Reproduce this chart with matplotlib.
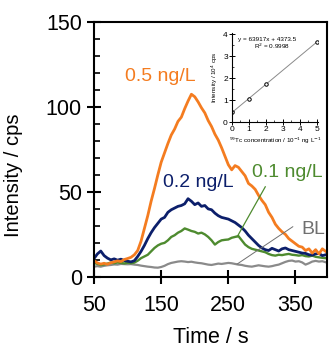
import numpy as np
from matplotlib import pyplot as plt
from matplotlib.ticker import MultipleLocator

plt.rcParams['font.family'] = ['Liberation Sans', 'DejaVu Sans']

time_s = np.arange(50, 400, 5)

int_05 = [9.5, 8.2, 7.5, 8.0, 7.4, 8.3, 8.8, 9.4, 9.0, 10.2, 10.8, 11.5, 13.0, 15.5,
          21.0, 28.5, 36.0, 44.5, 52.0, 60.0, 67.5, 73.0, 78.5, 83.5, 87.0, 91.5,
          94.0, 99.0, 103.5, 107.5, 106.0, 103.0, 99.5, 96.5, 92.0, 88.5, 84.0, 80.5,
          76.0, 71.0, 66.0, 63.0, 65.5, 64.5, 62.0, 59.5, 55.0, 53.5, 51.5, 48.0,
          45.0, 42.5, 38.0, 35.0, 31.0, 28.5, 26.5, 25.0, 22.5, 21.0, 19.5, 18.0,
          17.5, 15.5, 16.5, 14.0, 16.0, 13.5, 16.5, 15.0]
int_02 = [10.8, 13.5, 15.2, 12.5, 11.0, 10.0, 10.6, 9.8, 10.4, 9.6, 9.2, 8.8, 9.5, 12.0,
          15.0, 18.5, 22.5, 26.0, 29.0, 31.5, 34.0, 35.0, 38.0, 39.5, 40.5, 41.5,
          42.0, 43.0, 46.0, 44.5, 42.5, 43.5, 41.5, 42.0, 40.0, 39.5, 37.5, 36.0,
          35.0, 34.5, 34.0, 33.0, 32.0, 30.5, 29.0, 27.0, 24.5, 22.5, 20.5, 18.5,
          17.0, 16.0, 15.5, 16.8, 16.0, 15.2, 16.5, 17.0, 16.0, 15.5, 15.0, 14.5,
          14.0, 13.8, 13.0, 12.8, 13.5, 13.8, 12.5, 13.0]
int_01 = [8.2, 7.6, 7.0, 7.3, 7.8, 8.4, 8.0, 8.5, 8.2, 7.9, 8.3, 8.0, 8.4, 9.5,
          11.0, 12.0, 13.0, 15.0, 17.0, 18.5, 19.5, 20.0, 21.5, 23.5, 24.5, 26.0,
          27.0, 28.5, 27.8, 27.0, 26.5, 25.5, 26.0, 25.0, 23.5, 21.5, 19.0, 20.5,
          21.5, 21.8, 22.0, 23.0, 23.5, 24.0, 21.5, 19.0, 17.5, 16.5, 16.0, 15.5,
          15.0, 14.5, 13.5, 12.8, 12.5, 13.0, 12.8, 13.2, 13.5, 13.0, 12.8, 12.5,
          12.8, 12.2, 12.0, 12.5, 11.8, 11.5, 11.2, 11.0]
int_bl = [6.0, 6.3, 6.0, 6.5, 6.8, 7.0, 7.3, 7.2, 7.6, 7.5, 7.4, 7.5, 7.2, 7.0,
          6.6, 6.3, 6.0, 5.8, 5.5, 5.4, 5.8, 6.5, 7.5, 8.2, 8.6, 9.0,
          9.2, 9.0, 8.7, 8.9, 8.5, 8.2, 8.0, 7.6, 7.2, 7.0, 7.4, 7.8,
          7.6, 7.9, 8.2, 8.0, 7.6, 7.2, 7.0, 6.5, 6.2, 6.0, 6.4, 6.8,
          6.5, 6.2, 6.0, 6.3, 6.8, 7.2, 8.0, 8.8, 9.4, 9.6, 9.0, 9.2,
          8.5, 7.2, 8.0, 9.0, 9.4, 9.0, 9.2, 8.6]

# calibration inset
conc = [0, 1, 2, 5]
cal_int = [0.45, 1.03, 1.72, 3.63]
slope, intercept = 0.63917, 0.43735

c_orange = '#f47c20'
c_navy = '#0c1f6b'
c_green = '#4e8b2f'
c_gray = '#8a8a8a'

fig = plt.figure(figsize=(3.3, 3.5), dpi=100)
ax = fig.add_axes([0.285, 0.209, 0.706, 0.728])

ax.plot(time_s, int_bl, color=c_gray, lw=1.6)
ax.plot(time_s, int_01, color=c_green, lw=1.7)
ax.plot(time_s, int_02, color=c_navy, lw=2.0)
ax.plot(time_s, int_05, color=c_orange, lw=2.0)

ax.set_xlim(50, 397)
ax.set_ylim(0, 150)
ax.set_xticks([50, 150, 250, 350])
ax.set_yticks([0, 50, 100, 150])
ax.yaxis.set_minor_locator(MultipleLocator(10))
ax.tick_params(which='major', direction='inout', length=9.5, width=1.5, labelsize=15.5)
ax.tick_params(axis='x', which='major', pad=8)
ax.tick_params(axis='y', which='major', pad=4)
ax.tick_params(which='minor', direction='in', length=4, width=1.2)
for s in ax.spines.values():
    s.set_linewidth(1.5)
ax.set_xlabel('Time / s', fontsize=15.5, labelpad=8)
ax.set_ylabel('Intensity / cps', fontsize=14.5)
ax.yaxis.set_label_coords(-0.305, 0.40)

ax.text(149, 118, '0.5 ng/L', color=c_orange, fontsize=14, ha='center', va='center')
ax.text(205, 55.5, '0.2 ng/L', color=c_navy, fontsize=14, ha='center', va='center')
ax.text(338, 61.5, '0.1 ng/L', color=c_green, fontsize=14, ha='center', va='center')
ax.text(376, 28, 'BL', color='#707070', fontsize=14, ha='center', va='center')
ax.plot([305, 263], [53, 23.5], color=c_green, lw=0.9)
ax.plot([346, 263], [29.5, 7.5], color='#707070', lw=0.7)

# inset
ins = fig.add_axes([0.703, 0.651, 0.262, 0.255])
xl = np.array([0, 5])
ins.plot(xl, slope * xl + intercept, color='#8a8a8a', lw=0.7)
ins.plot(conc, cal_int, 'o', ms=2.5, mfc='white', mec='black', mew=0.7)
ins.set_xlim(0, 5.1)
ins.set_ylim(0, 4.05)
ins.spines['top'].set_visible(False)
ins.spines['right'].set_visible(False)
for s in ['left', 'bottom']:
    ins.spines[s].set_linewidth(0.8)
ins.set_xticks(range(6))
ins.set_yticks(range(5))
ins.xaxis.set_minor_locator(MultipleLocator(0.5))
ins.yaxis.set_minor_locator(MultipleLocator(0.5))
ins.tick_params(which='major', direction='inout', length=4, width=0.7, labelsize=6, pad=1)
ins.tick_params(which='minor', direction='in', length=1.5, width=0.5)
ins.patch.set_alpha(0)
ins.set_xlabel('$^{99}$Tc concentration / 10$^{-1}$ ng L$^{-1}$', fontsize=4.5, labelpad=1.5)
ins.set_ylabel('Intensity / 10$^{4}$ cps', fontsize=4.5, labelpad=2)
ins.text(2.1, 3.74, 'y = 63917x + 4373.5', fontsize=4.6, ha='center', va='center')
ins.text(2.35, 3.42, 'R$^{2}$ = 0.9998', fontsize=4.6, ha='center', va='center')

plt.savefig('out.png', dpi=100)
